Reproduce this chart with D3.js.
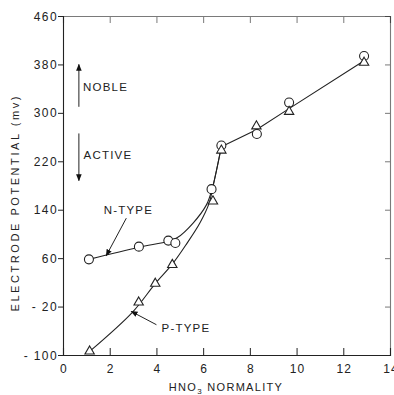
<!DOCTYPE html>
<html>
<head>
<meta charset="utf-8">
<script src="https://cdn.jsdelivr.net/npm/d3@7"></script>
<style>
  body { margin: 0; background: #fff; }
  svg text { font-family: "Liberation Sans", Arial, sans-serif; fill: #222; }
</style>
</head>
<body>
<svg id="chart" width="394" height="395"></svg>
<script>
// axis ticks
const xTicks = [0, 2, 4, 6, 8, 10, 12, 14];
const yTicks = [-100, -20, 60, 140, 220, 300, 380, 460];

const nTypeX = [1.11, 3.25, 4.51, 4.81, 6.36, 6.78, 8.30, 9.68, 12.89];
const nTypeY = [58, 79, 89, 85, 174, 246, 265, 317, 394];
const pTypeX = [1.14, 3.24, 3.95, 4.68, 6.42, 6.78, 8.28, 9.68, 12.89];
const pTypeY = [-94, -13, 18, 49, 154, 238, 278, 302, 383];

// drawn curves (vertices)
const nCurveX = [1.11, 3.25, 4.51, 4.9, 5.57, 6.14, 6.38, 6.78];
const nCurveY = [58, 78, 88, 94, 118, 148, 174, 244];
const pCurveX = [1.14, 2.98, 3.95, 4.68, 5.30, 5.86, 6.25, 6.40, 6.78];
const pCurveY = [-94, -29, 18, 50, 84, 118, 150, 174, 244];
const upperX = [6.78, 8.28, 9.68, 12.89];
const upperY = [244, 272, 307, 386];

const svg = d3.select("#chart");

const x = d3.scaleLinear().domain([0, 14]).range([63, 390]);
const y = d3.scaleLinear().domain([-100, 460]).range([355, 16]);

const zip = (a, b) => a.map((v, i) => [v, b[i]]);

// arrowhead marker
svg.append("defs").append("marker")
    .attr("id", "head")
    .attr("viewBox", "0 0 10 10")
    .attr("refX", 9).attr("refY", 5)
    .attr("markerWidth", 7).attr("markerHeight", 7)
    .attr("markerUnits", "userSpaceOnUse")
    .attr("orient", "auto")
    .append("path")
    .attr("d", "M0,1 L10,5 L0,9 Z")
    .style("fill", "#111");

// axes
let axisBottom = d3.axisBottom(x).tickValues(xTicks).tickSize(-7).tickFormat("");
let axisTop = d3.axisTop(x).tickValues(xTicks.slice(1, -1)).tickSize(-7).tickFormat("");
let axisLeft = d3.axisLeft(y).tickValues(yTicks).tickSize(5).tickFormat("");
let axisRight = d3.axisRight(y).tickValues(yTicks.slice(1, -1)).tickSize(-5).tickFormat("");

svg.append("g").attr("transform", "translate(0,355)").call(axisBottom);
svg.append("g").attr("transform", "translate(0,16)").call(axisTop).attr("opacity", 0.6);
svg.append("g").attr("transform", "translate(63,0)").call(axisLeft);
svg.append("g").attr("transform", "translate(390,0)").call(axisRight).attr("opacity", 0.6);

svg.selectAll(".domain").attr("stroke", "#222").attr("stroke-width", 1.1);
svg.selectAll(".tick line").attr("stroke", "#222");

// tick labels
svg.append("g").selectAll("text")
    .data(xTicks)
    .join("text")
    .attr("x", d => x(d) + 1)
    .attr("y", 373)
    .attr("text-anchor", "middle")
    .style("font-size", "12px")
    .style("letter-spacing", "1.2px")
    .text(d => d);

svg.append("g").selectAll("text")
    .data(yTicks)
    .join("text")
    .attr("x", 58)
    .attr("y", d => y(d) + 4.5)
    .attr("text-anchor", "end")
    .style("font-size", "12px")
    .style("letter-spacing", "1.4px")
    .text(d => d < 0 ? "- " + Math.abs(d) : d);

// axis titles
svg.append("text")
    .attr("transform", "translate(19,204) rotate(-90)")
    .attr("text-anchor", "middle")
    .attr("textLength", 215)
    .attr("lengthAdjust", "spacing")
    .style("font-size", "11px")
    .text("ELECTRODE  POTENTIAL  (mv)");

let xt = svg.append("text")
    .attr("x", 226)
    .attr("y", 391)
    .attr("text-anchor", "middle")
    .style("font-size", "11px")
    .style("letter-spacing", "1.3px");
xt.append("tspan").text("HNO");
xt.append("tspan").attr("dy", 3).style("font-size", "8px").text("3");
xt.append("tspan").attr("dy", -3).text("  NORMALITY");

// curves
let line = d3.line().x(d => x(d[0])).y(d => y(d[1])).curve(d3.curveCatmullRom.alpha(0.5));
let straight = d3.line().x(d => x(d[0])).y(d => y(d[1]));

svg.append("path").datum(zip(nCurveX, nCurveY))
    .attr("d", line)
    .style("fill", "none").style("stroke", "#222").style("stroke-width", 1.1);
svg.append("path").datum(zip(pCurveX, pCurveY))
    .attr("d", line)
    .style("fill", "none").style("stroke", "#222").style("stroke-width", 1.1);
svg.append("path").datum(zip(upperX, upperY))
    .attr("d", straight)
    .style("fill", "none").style("stroke", "#222").style("stroke-width", 1.1);

// markers
svg.append("g").selectAll("circle")
    .data(zip(nTypeX, nTypeY))
    .join("circle")
    .attr("cx", d => x(d[0]))
    .attr("cy", d => y(d[1]))
    .attr("r", 4.5)
    .style("fill", "#fff")
    .style("stroke", "#222")
    .style("stroke-width", 1.1);

let tri = d3.symbol().type(d3.symbolTriangle).size(38);
svg.append("g").selectAll("path")
    .data(zip(pTypeX, pTypeY))
    .join("path")
    .attr("d", tri)
    .attr("transform", d => "translate(" + x(d[0]) + "," + y(d[1]) + ")")
    .style("fill", "#fff")
    .style("stroke", "#222")
    .style("stroke-width", 1.1);

// annotations
function label(txt, xv, yv) {
    svg.append("text")
        .attr("x", x(xv))
        .attr("y", y(yv) + 4.5)
        .style("font-size", "11.5px")
        .style("letter-spacing", "1.2px")
        .text(txt);
}
function arrow(x1, y1, x2, y2) {
    svg.append("line")
        .attr("x1", x(x1)).attr("y1", y(y1))
        .attr("x2", x(x2)).attr("y2", y(y2))
        .attr("marker-end", "url(#head)")
        .style("stroke", "#222")
        .style("stroke-width", 1);
}

label("N-TYPE", 1.74, 140);
arrow(2.71, 126, 1.85, 64);
label("P-TYPE", 4.22, -55);
arrow(4.0, -50, 2.92, -28);

label("NOBLE", 0.86, 344);
arrow(0.68, 310, 0.68, 380);
label("ACTIVE", 0.88, 232);
arrow(0.68, 266, 0.68, 188);
</script>
</body>
</html>
